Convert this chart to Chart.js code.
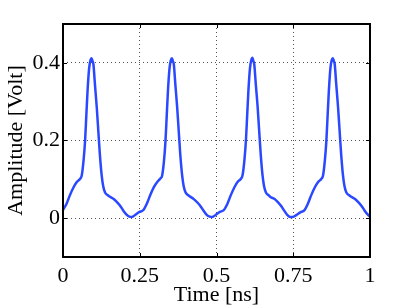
<!DOCTYPE html>
<html>
<head>
<meta charset="utf-8">
<script src="https://cdn.jsdelivr.net/npm/chart.js@4"></script>
<style>
html, body { margin: 0; padding: 0; background: #fff; }
</style>
</head>
<body>
<canvas id="pulse-chart" width="409" height="308"></canvas>
<script>
const timeNs = [
  0.000, 0.012, 0.023, 0.034, 0.045, 0.055, 0.061, 0.067, 0.072, 0.076, 0.080, 0.085, 0.089, 0.093, 0.096, 0.099, 0.104,
  0.110, 0.115, 0.120, 0.126, 0.131, 0.137, 0.146, 0.153, 0.164, 0.175, 0.186, 0.196, 0.207, 0.216, 0.224, 0.236, 0.249,
  0.262, 0.274, 0.285, 0.296, 0.307, 0.317, 0.323, 0.329, 0.334, 0.338, 0.342, 0.347, 0.351, 0.355, 0.358, 0.361, 0.366,
  0.372, 0.377, 0.382, 0.388, 0.393, 0.399, 0.408, 0.415, 0.426, 0.437, 0.448, 0.458, 0.469, 0.478, 0.486, 0.498, 0.511,
  0.524, 0.536, 0.547, 0.558, 0.569, 0.579, 0.585, 0.591, 0.596, 0.600, 0.604, 0.609, 0.613, 0.617, 0.620, 0.623, 0.628,
  0.634, 0.639, 0.644, 0.650, 0.655, 0.661, 0.670, 0.677, 0.688, 0.699, 0.710, 0.720, 0.731, 0.740, 0.748, 0.760, 0.773,
  0.786, 0.798, 0.809, 0.820, 0.831, 0.841, 0.847, 0.853, 0.858, 0.862, 0.866, 0.871, 0.875, 0.879, 0.882, 0.885, 0.890,
  0.896, 0.901, 0.906, 0.912, 0.917, 0.923, 0.932, 0.939, 0.950, 0.961, 0.972, 0.982, 0.993, 1.000
];
const amplitudeVolt = [
  0.021, 0.038, 0.060, 0.079, 0.093, 0.101, 0.110, 0.149, 0.200, 0.265, 0.328, 0.385, 0.405, 0.412, 0.405, 0.397, 0.345,
  0.285, 0.225, 0.165, 0.110, 0.082, 0.066, 0.059, 0.055, 0.050, 0.042, 0.032, 0.020, 0.009, 0.004, 0.003, 0.009, 0.016,
  0.021, 0.039, 0.061, 0.080, 0.093, 0.102, 0.110, 0.148, 0.201, 0.266, 0.330, 0.386, 0.406, 0.412, 0.404, 0.396, 0.344,
  0.284, 0.224, 0.164, 0.111, 0.083, 0.067, 0.059, 0.055, 0.049, 0.041, 0.031, 0.019, 0.008, 0.004, 0.003, 0.009, 0.016,
  0.021, 0.038, 0.060, 0.079, 0.094, 0.101, 0.111, 0.150, 0.202, 0.266, 0.329, 0.386, 0.406, 0.413, 0.405, 0.396, 0.345,
  0.286, 0.225, 0.165, 0.110, 0.082, 0.066, 0.059, 0.054, 0.050, 0.042, 0.032, 0.020, 0.008, 0.003, 0.003, 0.008, 0.015,
  0.020, 0.038, 0.060, 0.079, 0.093, 0.101, 0.110, 0.149, 0.201, 0.265, 0.328, 0.386, 0.406, 0.412, 0.405, 0.397, 0.345,
  0.285, 0.225, 0.165, 0.110, 0.082, 0.066, 0.059, 0.055, 0.050, 0.042, 0.032, 0.020, 0.009, 0.004
];
const xTicks = [0, 0.25, 0.5, 0.75, 1];
const xTickLabels = ['0', '0.25', '0.5', '0.75', '1'];
const yTicks = [0, 0.2, 0.4];
const yTickLabels = ['0', '0.2', '0.4'];

const SERIF = '"Liberation Serif", "Times New Roman", serif';

// black box with short inward ticks, like a matlab axes
const framePlugin = {
  id: 'matlabFrame',
  afterDatasetsDraw(chart) {
    const { ctx, chartArea } = chart;
    const { left, right, top, bottom } = chartArea;
    const xs = chart.scales.x;
    const ys = chart.scales.y;
    const len = 4;

    ctx.save();
    ctx.strokeStyle = '#000';
    ctx.lineWidth = 1;
    ctx.beginPath();
    xTicks.forEach((v) => {
      const x = Math.round(xs.getPixelForValue(v)) + 0.5;
      ctx.moveTo(x, bottom); ctx.lineTo(x, bottom - len);
      ctx.moveTo(x, top); ctx.lineTo(x, top + len);
    });
    yTicks.forEach((v) => {
      const y = Math.round(ys.getPixelForValue(v)) + 0.5;
      ctx.moveTo(left, y); ctx.lineTo(left + len, y);
      ctx.moveTo(right, y); ctx.lineTo(right - len, y);
    });
    ctx.stroke();

    ctx.lineWidth = 2;
    ctx.strokeRect(left, top, right - left, bottom - top);
    ctx.restore();
  }
};

new Chart(document.getElementById('pulse-chart'), {
  type: 'line',
  data: {
    datasets: [{
      data: timeNs.map((t, i) => ({ x: t, y: amplitudeVolt[i] })),
      borderColor: '#2a48ff',
      borderWidth: 2.5,
      pointRadius: 0,
      cubicInterpolationMode: 'monotone',
      fill: false,
    }],
  },
  options: {
    responsive: false,
    animation: false,
    layout: { padding: { left: 0, top: 24, right: 39, bottom: 0 } },
    plugins: { legend: { display: false }, tooltip: { enabled: false } },
    scales: {
      x: {
        type: 'linear',
        min: 0,
        max: 1,
        afterBuildTicks: (s) => { s.ticks = xTicks.map((v) => ({ value: v })); },
        afterFit: (s) => { s.height = 51; },
        ticks: {
          color: '#000',
          padding: 6,
          autoSkip: false,
          maxRotation: 0,
          font: { family: SERIF, size: 22 },
          callback: (v, i) => xTickLabels[i],
        },
        grid: { color: '#555', lineWidth: 1, drawTicks: false },
        border: { display: false, dash: [1, 3] },
        title: {
          display: true,
          text: 'Time [ns]',
          color: '#000',
          padding: { top: 2, bottom: 0 },
          font: { family: SERIF, size: 22 },
        },
      },
      y: {
        min: -0.1,
        max: 0.5,
        afterBuildTicks: (s) => { s.ticks = yTicks.map((v) => ({ value: v })); },
        afterFit: (s) => { s.width = 63; },
        ticks: {
          color: '#000',
          padding: 3,
          font: { family: SERIF, size: 22 },
          callback: (v, i) => yTickLabels[i],
        },
        grid: { color: '#555', lineWidth: 1, drawTicks: false },
        border: { display: false, dash: [1, 3] },
        title: {
          display: true,
          text: 'Amplitude [Volt]',
          color: '#000',
          padding: { top: 3, bottom: 0 },
          font: { family: SERIF, size: 22 },
        },
      },
    },
  },
  plugins: [framePlugin],
});
</script>
</body>
</html>
